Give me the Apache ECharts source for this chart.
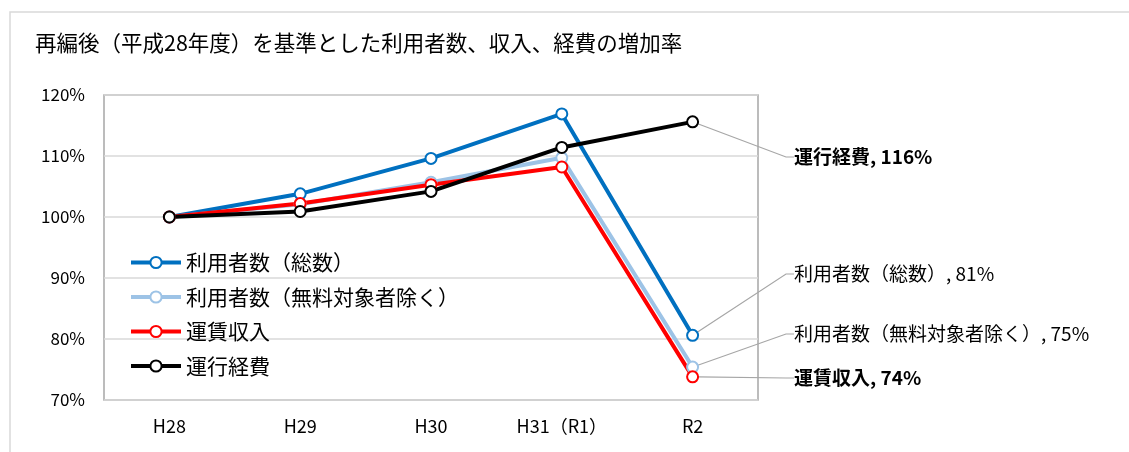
<!DOCTYPE html>
<html>
<head>
<meta charset="utf-8">
<script src="https://cdn.jsdelivr.net/npm/echarts@6/dist/echarts.min.js"></script>
<style>
  html, body { margin: 0; padding: 0; background: #fff; }
  #chart { width: 1129px; height: 452px; }
</style>
</head>
<body>
<div id="chart"></div>
<script>
const years = ["H28", "H29", "H30", "H31（R1）", "R2"];
const usersTotal = [100, 103.8, 109.6, 116.9, 80.6];
const usersPaid = [100, 102.1, 105.7, 109.7, 75.4];
const fareIncome = [100, 102.2, 105.3, 108.2, 73.8];
const runningCost = [100, 100.9, 104.2, 111.4, 115.6];
const yTicks = [70, 80, 90, 100, 110, 120];

const font = '"Noto Sans CJK JP", "Noto Sans", sans-serif';

const chart = echarts.init(document.getElementById("chart"));

// one series per line; label only on the last point, moved to the right with a leader line
const makeSeries = (name, data, color, labelX, labelY, bold) => ({
  name: name,
  type: "line",
  data: data.map((v, i) =>
    i === data.length - 1 ? { value: v, label: { show: true } } : v
  ),
  symbol: "emptyCircle",
  symbolSize: 11,
  lineStyle: { color: color, width: 4 },
  itemStyle: { color: color, borderWidth: 1.8 },
  label: {
    show: false,
    formatter: (p) => p.seriesName + ", " + Math.round(p.value) + "%",
    fontFamily: font,
    fontSize: 19,
    fontWeight: bold ? "bold" : "normal",
    color: "#000",
    padding: [0, 0, 0, 6],
  },
  labelLine: {
    show: true,
    length2: 8,
    lineStyle: { color: "#a6a6a6", width: 1.2 },
  },
  labelLayout: () => ({
    x: labelX,
    y: labelY,
    align: "left",
    verticalAlign: "middle",
  }),
});

chart.setOption({
  animation: false,
  backgroundColor: "#fff",
  graphic: [
    {
      type: "rect",
      shape: { x: 10, y: 12, width: 1200, height: 500 },
      style: { fill: "none", stroke: "#d9d9d9", lineWidth: 1.5 },
      silent: true,
    },
  ],
  title: {
    text: "再編後（平成28年度）を基準とした利用者数、収入、経費の増加率",
    left: 30,
    top: 27,
    textStyle: {
      fontFamily: font,
      fontSize: 21.5,
      fontWeight: "normal",
      color: "#000",
    },
  },
  grid: {
    left: 104,
    right: 371,
    top: 95,
    bottom: 52,
    show: true,
    borderColor: "#a6a6a6",
    borderWidth: 1.5,
  },
  legend: {
    orient: "vertical",
    left: 129,
    top: 252,
    padding: 0,
    itemWidth: 50,
    itemHeight: 14,
    itemGap: 13.5,
    lineStyle: { width: 4 },
    textStyle: { fontFamily: font, fontSize: 21, color: "#000" },
    data: ["利用者数（総数）", "利用者数（無料対象者除く）", "運賃収入", "運行経費"],
  },
  xAxis: {
    type: "category",
    data: years,
    boundaryGap: true,
    axisLine: { show: false },
    axisTick: { show: false },
    axisLabel: { fontFamily: font, fontSize: 18, color: "#000", margin: 17 },
  },
  yAxis: {
    type: "value",
    min: yTicks[0],
    max: yTicks[yTicks.length - 1],
    interval: 10,
    axisLine: { show: false },
    axisTick: { show: false },
    splitLine: { lineStyle: { color: "#d9d9d9", width: 1.5 } },
    axisLabel: {
      fontFamily: font,
      fontSize: 17,
      color: "#000",
      margin: 19,
      formatter: "{value}%",
    },
  },
  series: [
    makeSeries("利用者数（総数）", usersTotal, "#0070c0", 788, 274, false),
    makeSeries("利用者数（無料対象者除く）", usersPaid, "#9dc3e6", 788, 334, false),
    makeSeries("運賃収入", fareIncome, "#ff0000", 788, 378, true),
    makeSeries("運行経費", runningCost, "#000000", 788, 157, true),
  ],
});
</script>
</body>
</html>
